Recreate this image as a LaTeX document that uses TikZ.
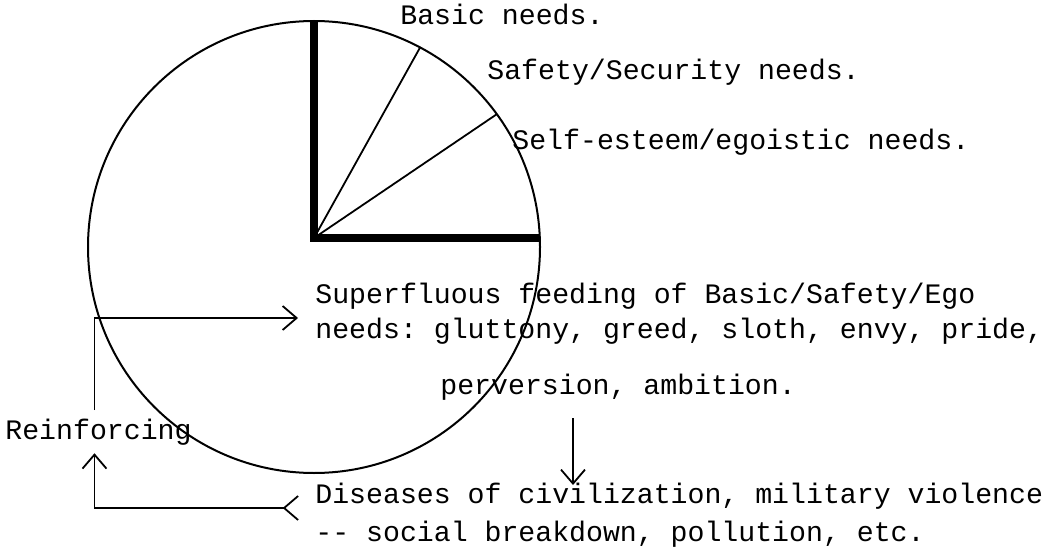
\documentclass[tikz,border=0pt]{standalone}
\usepackage{fontspec}
\setmonofont{Liberation Mono}
\usetikzlibrary{arrows.meta}

\begin{document}
\begin{tikzpicture}[x=0.5pt, y=-0.5pt,
  txt/.style={anchor=base west, inner sep=0pt, font=\fontsize{14.1pt}{17pt}\ttfamily},
  arr/.style={line width=0.9pt, -{Straight Barb[length=7pt, width=12pt, line width=0.9pt]}}]
\useasboundingbox (0,0) rectangle (1044,556);

% the needs circle
\node[draw, circle, minimum size=226pt, inner sep=0pt, outer sep=0pt, line width=1pt] (pie) at (314,247) {};
\coordinate (hub) at (314,238);
\draw[line width=4pt, line join=miter] (hub |- pie.north) -- (hub) -- (hub -| pie.east);
\draw[line width=0.9pt] (hub) -- (pie.62.7);
\draw[line width=0.9pt] (hub) -- (pie.36);

\node[txt] (basic) at (400,25) {Basic needs.};
\node[txt] (safety) at (487,80) {Safety/Security needs.};
\node[txt] (ego) at (512,149) {Self-esteem/egoistic needs.};

\node[txt] (sup1) at (315,303) {Superfluous feeding of Basic/Safety/Ego};
\node[txt] (sup2) at (315,338) {needs: gluttony, greed, sloth, envy, pride,};
\node[txt] (perv) at (440,394) {perversion, ambition.};
\node[txt] (dis1) at (315,503) {Diseases of civilization, military violence};
\node[txt] (dis2) at (315,541) {-- social breakdown, pollution, etc.};
\node[txt, anchor=base west, inner sep=4pt] (rein) at (-3,439) {Reinforcing};

\draw[arr] ([xshift=-2pt]rein.north) |- ([shift={(-17,15)}]sup1.base west);
\draw[arr] ([shift={(133,24)}]perv.base west) -- ([shift={(258,-18)}]dis1.base west);
\draw[arr, {Straight Barb[reversed, length=7pt, width=12pt, line width=0.9pt]}-{Straight Barb[length=7pt, width=12pt, line width=0.9pt]}]
  ([shift={(-16,5)}]dis1.base west) -| ([xshift=-2pt]rein.south);
\end{tikzpicture}
\end{document}
